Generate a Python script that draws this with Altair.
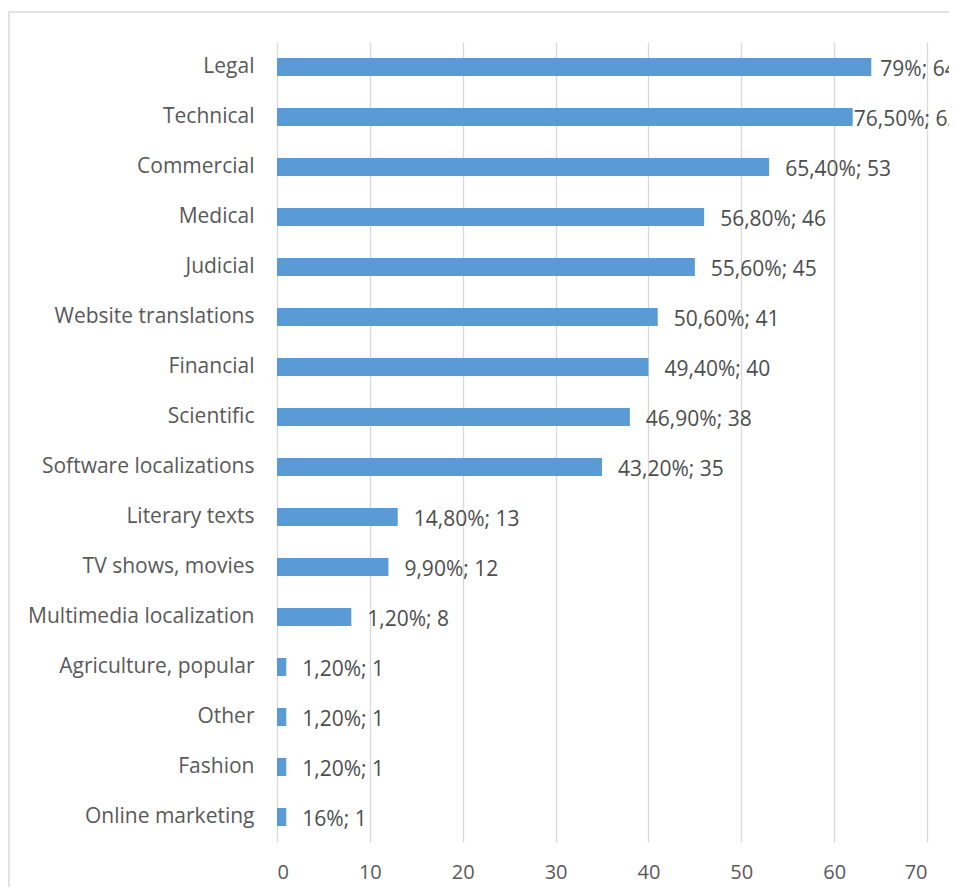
import altair as alt
import pandas as pd

categories = ["Legal", "Technical", "Commercial", "Medical", "Judicial",
              "Website translations", "Financial", "Scientific",
              "Software localizations", "Literary texts", "TV shows, movies",
              "Multimedia localization", "Agriculture, popular", "Other",
              "Fashion", "Online marketing"]
counts = [64, 62, 53, 46, 45, 41, 40, 38, 35, 13, 12, 8, 1, 1, 1, 1]
percents = ["79%", "76,50%", "65,40%", "56,80%", "55,60%", "50,60%", "49,40%",
            "46,90%", "43,20%", "14,80%", "9,90%", "1,20%", "1,20%", "1,20%",
            "1,20%", "16%"]
x_ticks = [0, 10, 20, 30, 40, 50, 60, 70]

df = pd.DataFrame({"category": categories, "count": counts, "pct": percents})
df["label"] = df["pct"] + "; " + df["count"].astype(str)

FONT = "Open Sans"
TXT = "#595959"
FS = 21

y_enc = alt.Y("category:N", sort=categories, title=None,
              scale=alt.Scale(paddingInner=0.64, paddingOuter=0.32),
              axis=alt.Axis(domain=False, ticks=False, grid=False,
                            labelFont=FONT, labelFontSize=FS, labelColor=TXT,
                            labelPadding=23, labelLimit=300))
x_enc = alt.X("count:Q", title=None,
              scale=alt.Scale(domain=[0, 70], nice=False),
              axis=alt.Axis(values=x_ticks, domain=False, ticks=False,
                            grid=True, gridColor="#d9d9d9", gridWidth=1.3,
                            labelFont=FONT, labelFontSize=FS - 1, labelColor=TXT,
                            labelPadding=20))

bars = alt.Chart(df).mark_bar(color="#5B9BD5").encode(x=x_enc, y=y_enc)

def text_layer(dx, cond):
    return alt.Chart(df).transform_filter(cond).mark_text(
        align="left", dx=dx, dy=3, font=FONT, fontSize=FS,
        color="#4d4d4d").encode(
        x="count:Q", y=alt.Y("category:N", sort=categories), text="label:N")

labels_main = text_layer(16, "datum.category != 'Legal' && datum.category != 'Technical'")
labels_legal = text_layer(9, "datum.category == 'Legal'")
labels_tech = text_layer(1, "datum.category == 'Technical'")

border = alt.Chart(pd.DataFrame({"a": [0]})).mark_rect(
    fill=None, stroke="#d9d9d9", strokeWidth=1.5, clip=False).encode(
    x=alt.value(-268), x2=alt.value(800), y=alt.value(-30), y2=alt.value(900))

chart = alt.layer(border, bars, labels_main, labels_legal, labels_tech).properties(
    width=650, height=800,
    autosize=alt.AutoSizeParams(type="none"),
    padding={"left": 269, "top": 34, "right": 22, "bottom": 45},
).configure_view(stroke=None)

chart.save("out.html", embed_options={"renderer": "svg", "actions": False})
